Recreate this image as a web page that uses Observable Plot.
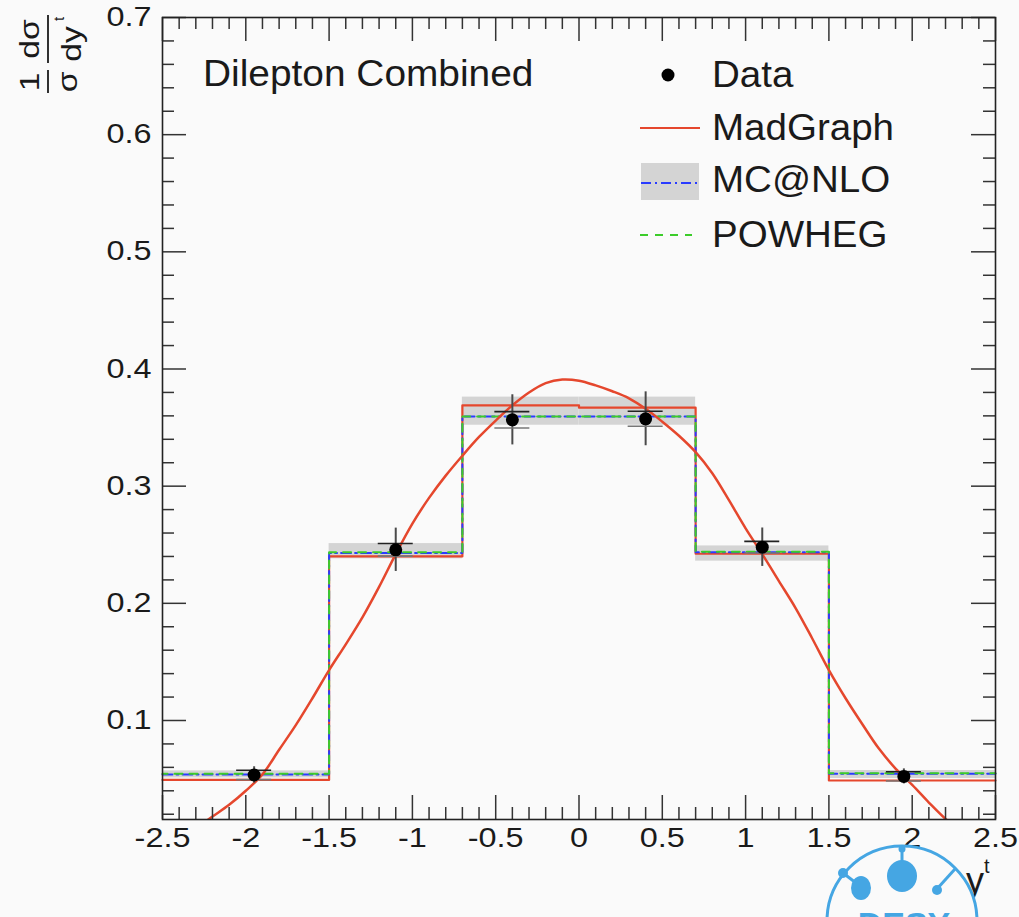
<!DOCTYPE html>
<html><head><meta charset="utf-8">
<script src="https://cdn.jsdelivr.net/npm/d3@7"></script>
<script src="https://cdn.jsdelivr.net/npm/@observablehq/plot@0.6"></script>
<style>
body{margin:0;background:#fafafa;}
#chart{width:1019px;height:917px;overflow:hidden;}
</style></head><body><div id="chart"></div>
<script>
// ---- data ----
const binEdges = [-2.5, -1.5, -0.7, 0, 0.7, 1.5, 2.5];
const madgraphHist = [0.0493, 0.240, 0.369, 0.367, 0.2423, 0.0488];
const mcatnloHist  = [0.054, 0.243, 0.3595, 0.3595, 0.2437, 0.0545];
const powhegHist   = [0.0545, 0.2435, 0.3595, 0.3595, 0.244, 0.055];
const mcatnloLo    = [0.051, 0.238, 0.352, 0.352, 0.236, 0.0505];
const mcatnloHi    = [0.057, 0.251, 0.376, 0.376, 0.249, 0.0573];

const dataX       = [-1.95, -1.1, -0.4, 0.4, 1.1, 1.95];
const dataY       = [0.0535, 0.2457, 0.3566, 0.3575, 0.2479, 0.0523];
const dataErrTot  = [0.007, 0.0185, 0.0214, 0.023, 0.0164, 0.0064];
const dataErrStat = [0.004, 0.0054, 0.007, 0.0064, 0.005, 0.004];

const curveX = [-2.3,-2.2,-2.1,-2.0,-1.9,-1.8,-1.7,-1.6,-1.5,-1.4,-1.3,-1.2,-1.1,-1.0,-0.9,-0.8,-0.7,-0.6,-0.5,-0.4,-0.3,-0.2,-0.1,0.0,0.1,0.2,0.3,0.4,0.5,0.6,0.7,0.8,0.9,1.0,1.1,1.2,1.3,1.4,1.5,1.6,1.7,1.8,1.9,2.0,2.1,2.2,2.3];
const curveY = [0.008,0.018,0.028,0.040,0.054,0.075,0.096,0.119,0.143,0.165,0.188,0.214,0.242,0.268,0.290,0.309,0.326,0.342,0.356,0.369,0.380,0.388,0.391,0.390,0.386,0.381,0.375,0.366,0.355,0.343,0.329,0.311,0.288,0.264,0.242,0.219,0.196,0.170,0.143,0.119,0.097,0.076,0.059,0.045,0.030,0.016,0.005];

const xMajor = [-2.5,-2,-1.5,-1,-0.5,0,0.5,1,1.5,2,2.5];
const xMinor = d3.range(-24, 25).map(i => i / 10).filter(v => Math.abs(v * 2 - Math.round(v * 2)) > 1e-9);
const yMajor = [0.1,0.2,0.3,0.4,0.5,0.6,0.7];
const yMinor = d3.range(1, 35).map(i => i * 0.02).filter(v => Math.abs(v * 10 - Math.round(v * 10)) > 1e-9);

const legendLabels = ["Data", "MadGraph", "MC@NLO", "POWHEG"];
const annotation = "Dilepton Combined";

// ---- derived tables ----
const stepTable = vals => binEdges.map((x, i) => ({x, y: vals[Math.min(i, vals.length - 1)]}));
const bands = binEdges.slice(0, -1).map((x, i) => ({x1: x, x2: binEdges[i + 1], lo: mcatnloLo[i], hi: mcatnloHi[i]}));
const points = dataX.map((x, i) => ({x, y: dataY[i], et: dataErrTot[i], es: dataErrStat[i]}));
const curve = curveX.map((x, i) => ({x, y: curveY[i]}));

const RED = "#e5472d", BLUE = "#2a3cff", GREEN = "#3ccc2a";
const W = 1019, H = 917, ML = 162, MR = 24, MT = 17, MB = 98;
const PW = W - ML - MR, PH = H - MT - MB;
const MAJ = 24, MIN = 12, capHalf = 0.105;

const svg = Plot.plot({
  width: W, height: H,
  marginLeft: ML, marginRight: MR, marginTop: MT, marginBottom: MB,
  style: {background: "#fafafa", fontFamily: "'Liberation Sans', Arial, sans-serif", color: "#1a1a1a"},
  x: {domain: [-2.5, 2.5]},
  y: {domain: [0.0155, 0.7]},
  marks: [
    Plot.rect(bands, {x1: "x1", x2: "x2", y1: "lo", y2: "hi", fill: "#d4d4d4"}),
    Plot.line(stepTable(madgraphHist), {x: "x", y: "y", curve: "step-after", stroke: RED, strokeWidth: 2.2}),
    Plot.line(stepTable(mcatnloHist), {x: "x", y: "y", curve: "step-after", stroke: BLUE, strokeWidth: 2, strokeDasharray: "10,4,2,4"}),
    Plot.line(stepTable(powhegHist), {x: "x", y: "y", curve: "step-after", stroke: GREEN, strokeWidth: 2, strokeDasharray: "8,7", strokeDashoffset: 3}),
    Plot.line(curve, {x: "x", y: "y", curve: "catmull-rom", stroke: RED, strokeWidth: 2.5, clip: true}),
    Plot.ruleX(points, {x: "x", y1: d => d.y - d.et, y2: d => d.y + d.et, stroke: "#4a4a4a", strokeWidth: 2}),
    Plot.ruleY(points, {y: d => d.y + d.es, x1: d => d.x - capHalf, x2: d => d.x + capHalf, stroke: "#222", strokeWidth: 1.6}),
    Plot.ruleY(points, {y: d => d.y - d.es, x1: d => d.x - capHalf, x2: d => d.x + capHalf, stroke: "#777", strokeWidth: 1.6}),
    Plot.dot(points, {x: "x", y: "y", r: 6.5, fill: "black"}),
    // inward ticks on all four sides
    Plot.tickX(xMajor, {x: d => d, insetTop: PH - MAJ, stroke: "#333", strokeWidth: 1.5}),
    Plot.tickX(xMinor, {x: d => d, insetTop: PH - MIN, stroke: "#333", strokeWidth: 1.5}),
    Plot.tickX(xMajor, {x: d => d, insetBottom: PH - MAJ, stroke: "#333", strokeWidth: 1.5}),
    Plot.tickX(xMinor, {x: d => d, insetBottom: PH - MIN, stroke: "#333", strokeWidth: 1.5}),
    Plot.tickY(yMajor, {y: d => d, insetRight: PW - MAJ, stroke: "#333", strokeWidth: 1.5}),
    Plot.tickY(yMinor, {y: d => d, insetRight: PW - MIN, stroke: "#333", strokeWidth: 1.5}),
    Plot.tickY(yMajor, {y: d => d, insetLeft: PW - MAJ, stroke: "#333", strokeWidth: 1.5}),
    Plot.tickY(yMinor, {y: d => d, insetLeft: PW - MIN, stroke: "#333", strokeWidth: 1.5}),
    Plot.axisX(xMajor, {tickSize: 0, tickPadding: 8, fontSize: 27, tickFormat: d => String(d), fill: "#1a1a1a"}),
    Plot.axisY(yMajor, {tickSize: 0, tickPadding: 11, fontSize: 27, tickFormat: d => d.toFixed(1), fill: "#1a1a1a"}),
    Plot.frame({stroke: "#222", strokeWidth: 1.6})
  ]
});
document.getElementById("chart").append(svg);
const s = d3.select(svg);

function stretch(sel, k) {
  sel.each(function () {
    const L = this.getComputedTextLength();
    this.setAttribute("textLength", L * k);
    this.setAttribute("lengthAdjust", "spacingAndGlyphs");
  });
}
stretch(s.selectAll("g[aria-label='x-axis tick label'] text, g[aria-label='y-axis tick label'] text"), 1.2);

const FONT = "'Liberation Sans', Arial, sans-serif";
// annotation
const ann = s.append("text").attr("x", 203).attr("y", 86).attr("text-anchor", "start").attr("font-size", 37).attr("font-family", FONT).attr("fill", "#1a1a1a").text(annotation);
stretch(ann, 1.05);

// legend
const lg = s.append("g").attr("font-family", FONT).attr("font-size", 36).attr("fill", "#1a1a1a").attr("text-anchor", "start");
lg.append("circle").attr("cx", 668).attr("cy", 75).attr("r", 6.5).attr("fill", "black");
lg.append("line").attr("x1", 640).attr("x2", 700).attr("y1", 128).attr("y2", 128).attr("stroke", RED).attr("stroke-width", 2.2);
lg.append("rect").attr("x", 641).attr("y", 163).attr("width", 58).attr("height", 37).attr("fill", "#d4d4d4");
lg.append("line").attr("x1", 641).attr("x2", 699).attr("y1", 183).attr("y2", 183).attr("stroke", BLUE).attr("stroke-width", 2).attr("stroke-dasharray", "10,4,2,4");
lg.append("line").attr("x1", 640).attr("x2", 692).attr("y1", 235).attr("y2", 235).attr("stroke", GREEN).attr("stroke-width", 2).attr("stroke-dasharray", "8,7");
const baselines = [87, 140, 192, 247];
legendLabels.forEach((t, i) => stretch(lg.append("text").attr("x", 712).attr("y", baselines[i]).text(t), 1.07));

// y-axis title: (1/σ) dσ/dy^t, rotated
const yt = s.append("g").attr("transform", "rotate(-90)").attr("font-family", FONT).attr("font-size", 28).attr("fill", "#1a1a1a").attr("text-anchor", "middle");
stretch(yt.append("text").attr("x", -82).attr("y", 39).text("1"), 1.2);
yt.append("line").attr("x1", -93).attr("x2", -70).attr("y1", 48).attr("y2", 48).attr("stroke", "#1a1a1a").attr("stroke-width", 1.8);
stretch(yt.append("text").attr("x", -82).attr("y", 77).text("σ"), 1.2);
stretch(yt.append("text").attr("x", -39).attr("y", 39).text("dσ"), 1.2);
yt.append("line").attr("x1", -63).attr("x2", -15).attr("y1", 48).attr("y2", 48).attr("stroke", "#1a1a1a").attr("stroke-width", 1.8);
const dy = yt.append("text").attr("x", -44).attr("y", 81).text("dy");
stretch(dy, 1.2);
yt.append("text").attr("x", -19).attr("y", 64).attr("font-size", 15).text("t");

// x-axis title
const xt = s.append("text").attr("x", 966).attr("y", 893).attr("text-anchor", "start").attr("font-family", FONT).attr("font-size", 36).attr("fill", "#1a1a1a").text("y");
xt.append("tspan").attr("font-size", 20).attr("dy", -20).text("t");

// DESY logo (decoration, partly off-canvas as in the reference)
const LB = "#45a6e3";
const logo = s.append("g");
logo.append("circle").attr("cx", 902).attr("cy", 921).attr("r", 75).attr("fill", "#fafafa").attr("stroke", LB).attr("stroke-width", 3);
logo.append("line").attr("x1", 902).attr("y1", 876).attr("x2", 902).attr("y2", 850).attr("stroke", LB).attr("stroke-width", 3);
logo.append("circle").attr("cx", 902).attr("cy", 849).attr("r", 3.5).attr("fill", LB);
logo.append("ellipse").attr("cx", 902).attr("cy", 876).attr("rx", 15).attr("ry", 16).attr("fill", LB);
logo.append("line").attr("x1", 860).attr("y1", 886).attr("x2", 843).attr("y2", 873).attr("stroke", LB).attr("stroke-width", 3);
logo.append("circle").attr("cx", 843).attr("cy", 873).attr("r", 5).attr("fill", LB);
logo.append("ellipse").attr("cx", 861).attr("cy", 888).attr("rx", 10).attr("ry", 12).attr("fill", LB);
logo.append("line").attr("x1", 936).attr("y1", 890).attr("x2", 955).attr("y2", 869).attr("stroke", LB).attr("stroke-width", 3);
logo.append("circle").attr("cx", 937).attr("cy", 890).attr("r", 5).attr("fill", LB);
logo.append("text").attr("x", 904).attr("y", 936).attr("text-anchor", "middle").attr("font-family", FONT).attr("font-weight", "bold").attr("font-size", 34).attr("fill", LB).text("DESY");
</script></body></html>
